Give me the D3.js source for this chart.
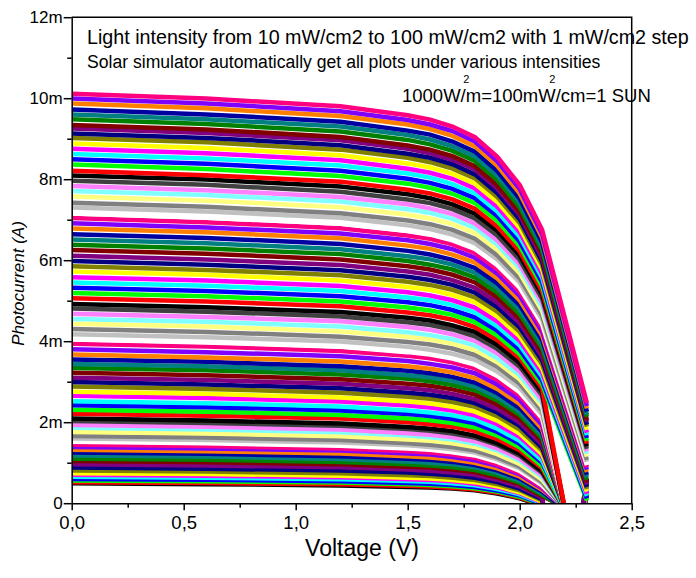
<!DOCTYPE html>
<html><head><meta charset="utf-8">
<script src="https://cdn.jsdelivr.net/npm/d3@7"></script>
<style>
body{margin:0;background:#fff}
svg{display:block}
text{font-family:"Liberation Sans",Arial,sans-serif;fill:#000}
</style>
</head><body>
<svg id="chart" width="696" height="578"></svg>
<script>
// Sweep voltages (V)
const voltage = [0, 0.6, 1.2, 1.5, 1.6, 1.7, 1.8, 1.9, 2.0, 2.1, 2.2, 2.3];
// Light intensity of each curve (mW/cm2), lowest first (plot order)
const intensity = [12,13,14,15,16,17,18,19,20,21,22,23,24,25,26,27,28,29,30,31,32,33,34,35,36,37,38,39,40,41,42,43,44,45,46,47,48,49,50,51,52,53,54,55,56,57,58,59,60,61,62,63,64,65,66,67,68,69,70,71,72,73,74,75,76,77,78,79,80,81,82,83,84,85,86,87,88,89,90,91,92,93,94,95,96,97,98,99,100];
// Photocurrent (mA) of each curve at the voltages above
const photocurrent = [
[0.49,0.47,0.44,0.40,0.39,0.36,0.32,0.24,0.12,-0.06,-3,0.22],
[0.52,0.50,0.47,0.43,0.41,0.38,0.34,0.26,0.14,-0.05,-3,0.27],
[0.56,0.54,0.51,0.47,0.45,0.42,0.37,0.29,0.16,-0.03,-3,0.31],
[0.60,0.58,0.54,0.50,0.48,0.45,0.40,0.31,0.19,-0.02,-3,0.36],
[0.65,0.63,0.59,0.55,0.53,0.49,0.44,0.35,0.22,0.00,-3,0.40],
[0.70,0.68,0.64,0.59,0.57,0.54,0.48,0.39,0.25,0.02,-3,0.44],
[0.74,0.72,0.68,0.63,0.61,0.57,0.52,0.42,0.27,0.04,-3,0.49],
[0.81,0.78,0.74,0.69,0.67,0.63,0.57,0.47,0.32,0.07,-3,0.53],
[0.88,0.85,0.81,0.76,0.73,0.69,0.63,0.52,0.36,0.10,-3,0.57],
[0.96,0.93,0.89,0.83,0.80,0.76,0.70,0.58,0.41,0.14,-3,0.61],
[1.04,1.01,0.96,0.90,0.88,0.83,0.77,0.64,0.47,0.18,-0.10,-6],
[1.10,1.07,1.02,0.96,0.93,0.89,0.82,0.69,0.51,0.21,-0.12,-6],
[1.18,1.15,1.09,1.03,1.00,0.96,0.89,0.75,0.56,0.25,-0.09,-6],
[1.25,1.22,1.16,1.10,1.07,1.02,0.94,0.81,0.61,0.29,-0.14,-6],
[1.32,1.28,1.23,1.16,1.13,1.08,1.00,0.86,0.66,0.33,-0.10,-6],
[1.39,1.35,1.30,1.23,1.20,1.14,1.06,0.92,0.71,0.37,-0.12,-6],
[1.45,1.41,1.35,1.29,1.25,1.20,1.12,0.96,0.75,0.40,-0.08,-6],
[1.52,1.48,1.42,1.35,1.32,1.26,1.18,1.02,0.80,0.44,-0.12,-6],
[1.60,1.56,1.50,1.43,1.39,1.33,1.25,1.08,0.86,0.49,-0.10,-6],
[1.66,1.62,1.56,1.48,1.44,1.39,1.30,1.13,0.90,0.52,-0.15,-6],
[1.76,1.72,1.65,1.57,1.54,1.48,1.39,1.21,0.97,0.58,-0.09,-6],
[1.86,1.82,1.75,1.67,1.63,1.57,1.47,1.30,1.05,0.64,-0.12,-6],
[1.93,1.89,1.82,1.73,1.69,1.63,1.53,1.35,1.10,0.69,-0.10,-6],
[2.03,1.98,1.91,1.83,1.79,1.72,1.62,1.44,1.17,0.75,-0.14,-6],
[2.09,2.04,1.97,1.88,1.84,1.78,1.67,1.48,1.22,0.79,-0.09,-6],
[2.21,2.16,2.09,2.00,1.95,1.89,1.78,1.58,1.31,0.86,-0.12,-6],
[2.31,2.26,2.18,2.09,2.05,1.98,1.87,1.67,1.38,0.92,-0.12,-6],
[2.42,2.37,2.29,2.20,2.15,2.08,1.97,1.76,1.47,1.00,-0.10,-6],
[2.52,2.47,2.39,2.29,2.24,2.17,2.06,1.84,1.54,1.06,-0.15,-6],
[2.65,2.60,2.51,2.41,2.36,2.29,2.17,1.95,1.64,1.15,-0.08,-6],
[2.75,2.70,2.61,2.51,2.46,2.38,2.26,2.04,1.72,1.21,-0.12,-6],
[2.88,2.82,2.73,2.63,2.58,2.50,2.38,2.15,1.82,1.30,-0.10,-6],
[2.99,2.93,2.84,2.73,2.68,2.60,2.47,2.24,1.91,1.37,-0.14,-6],
[3.10,3.04,2.95,2.84,2.79,2.70,2.57,2.33,1.99,1.45,-0.09,-6],
[3.22,3.16,3.06,2.95,2.90,2.81,2.68,2.44,2.09,1.53,-0.12,-6],
[3.34,3.28,3.18,3.07,3.01,2.92,2.79,2.54,2.18,1.61,-0.10,-6],
[3.44,3.38,3.28,3.16,3.11,3.02,2.88,2.62,2.26,1.68,-0.15,-6],
[3.55,3.49,3.38,3.27,3.21,3.12,2.98,2.72,2.35,1.76,-0.08,-6],
[3.67,3.60,3.50,3.38,3.32,3.23,3.09,2.82,2.45,1.84,-0.12,-6],
[3.80,3.73,3.63,3.51,3.44,3.35,3.21,2.93,2.55,1.93,-0.10,-6],
[3.94,3.87,3.76,3.64,3.58,3.48,3.33,3.05,2.66,2.03,-0.14,-6],
[4.04,3.97,3.86,3.73,3.67,3.57,3.42,3.14,2.74,2.10,-0.09,-6],
[4.17,4.10,3.99,3.86,3.79,3.69,3.54,3.25,2.85,2.19,-0.12,-6],
[4.30,4.23,4.11,3.98,3.92,3.82,3.66,3.37,2.95,2.29,-0.10,-6],
[4.43,4.36,4.24,4.11,4.04,3.94,3.78,3.48,3.06,2.38,-0.15,-6],
[4.55,4.48,4.36,4.22,4.15,4.05,3.89,3.58,3.16,2.47,-0.08,-6],
[4.68,4.60,4.49,4.35,4.28,4.17,4.01,3.70,3.26,2.56,-0.12,-6],
[4.81,4.73,4.61,4.47,4.40,4.29,4.12,3.81,3.37,2.66,-0.10,-6],
[4.92,4.84,4.72,4.58,4.51,4.39,4.23,3.91,3.46,2.74,-0.14,-6],
[5.06,4.98,4.86,4.71,4.64,4.53,4.35,4.03,3.58,2.84,-0.09,-6],
[5.19,5.11,4.98,4.83,4.76,4.65,4.47,4.14,3.68,2.94,1.50,0.07],
[5.32,5.24,5.11,4.96,4.89,4.77,4.59,4.26,3.79,3.03,1.58,0.12],
[5.45,5.37,5.24,5.08,5.01,4.89,4.71,4.37,3.90,3.13,1.65,0.18],
[5.58,5.50,5.36,5.21,5.13,5.01,4.83,4.49,4.01,3.23,1.73,0.23],
[5.72,5.64,5.50,5.34,5.27,5.14,4.96,4.61,4.12,3.33,1.81,0.29],
[5.85,5.76,5.63,5.47,5.39,5.27,5.08,4.73,4.23,3.43,1.89,0.35],
[5.98,5.89,5.75,5.59,5.51,5.39,5.20,4.84,4.34,3.53,1.97,0.40],
[6.11,6.02,5.88,5.72,5.64,5.51,5.32,4.96,4.45,3.63,2.04,0.46],
[6.25,6.16,6.02,5.85,5.77,5.64,5.45,5.08,4.56,3.73,2.13,0.52],
[6.38,6.29,6.15,5.98,5.89,5.77,5.57,5.20,4.67,3.83,2.21,0.58],
[6.51,6.42,6.27,6.10,6.02,5.89,5.69,5.31,4.78,3.93,2.29,0.64],
[6.64,6.55,6.40,6.23,6.14,6.01,5.81,5.43,4.89,4.03,2.37,0.70],
[6.78,6.69,6.54,6.36,6.28,6.14,5.94,5.55,5.01,4.14,2.45,0.77],
[6.91,6.81,6.66,6.49,6.40,6.27,6.06,5.67,5.12,4.24,2.53,0.83],
[7.04,6.94,6.79,6.61,6.53,6.39,6.18,5.78,5.23,4.34,2.61,0.89],
[7.15,7.05,6.90,6.72,6.63,6.49,6.28,5.88,5.32,4.42,2.68,0.94],
[7.30,7.20,7.05,6.86,6.77,6.63,6.42,6.02,5.45,4.54,2.78,1.02],
[7.42,7.32,7.16,6.98,6.89,6.75,6.53,6.12,5.55,4.63,2.85,1.07],
[7.57,7.47,7.31,7.12,7.03,6.89,6.67,6.26,5.68,4.75,2.95,1.15],
[7.71,7.61,7.45,7.26,7.17,7.02,6.80,6.38,5.80,4.85,3.04,1.22],
[7.83,7.73,7.56,7.38,7.28,7.14,6.91,6.49,5.90,4.95,3.11,1.28],
[7.96,7.86,7.69,7.50,7.41,7.26,7.03,6.61,6.01,5.05,3.20,1.34],
[8.09,7.99,7.82,7.63,7.53,7.38,7.15,6.73,6.12,5.15,3.28,1.41],
[8.21,8.10,7.94,7.74,7.65,7.50,7.27,6.83,6.22,5.24,3.36,1.47],
[8.36,8.25,8.08,7.89,7.79,7.64,7.41,6.97,6.35,5.36,3.45,1.54],
[8.49,8.38,8.21,8.01,7.91,7.76,7.53,7.09,6.46,5.46,3.54,1.61],
[8.62,8.51,8.34,8.14,8.04,7.88,7.65,7.20,6.58,5.57,3.62,1.68],
[8.75,8.64,8.47,8.26,8.16,8.01,7.77,7.32,6.69,5.67,3.71,1.74],
[8.88,8.77,8.59,8.39,8.29,8.13,7.89,7.44,6.80,5.77,3.79,1.81],
[9.02,8.91,8.73,8.53,8.42,8.26,8.02,7.56,6.92,5.88,3.88,1.89],
[9.13,9.02,8.84,8.63,8.53,8.37,8.12,7.66,7.01,5.97,3.96,1.94],
[9.25,9.14,8.96,8.75,8.64,8.48,8.24,7.77,7.12,6.06,4.04,2.01],
[9.34,9.23,9.04,8.83,8.73,8.57,8.32,7.85,7.19,6.14,4.10,2.05],
[9.48,9.36,9.18,8.97,8.86,8.70,8.45,7.98,7.31,6.25,4.19,2.13],
[9.60,9.48,9.30,9.09,8.98,8.81,8.56,8.09,7.42,6.34,4.27,2.19],
[9.72,9.60,9.42,9.20,9.10,8.93,8.68,8.20,7.52,6.44,4.35,2.26],
[9.87,9.75,9.56,9.35,9.24,9.07,8.81,8.33,7.65,6.56,4.45,2.34],
[9.99,9.87,9.68,9.46,9.35,9.19,8.93,8.44,7.76,6.65,4.53,2.40],
[10.11,9.99,9.80,9.58,9.47,9.30,9.04,8.55,7.86,6.75,4.61,2.47]
];
const xTicks = [0, 0.5, 1.0, 1.5, 2.0, 2.5];
const xTickLabels = ["0,0", "0,5", "1,0", "1,5", "2,0", "2,5"];
const xMinorTicks = [0.25, 0.75, 1.25, 1.75, 2.25];
const yTicks = [0, 2, 4, 6, 8, 10, 12];
const yTickLabels = ["0", "2m", "4m", "6m", "8m", "10m", "12m"];
const yMinorTicks = [1, 3, 5, 7, 9, 11];
const noteLines = [
  "Light intensity from 10 mW/cm2 to 100 mW/cm2 with 1 mW/cm2 step",
  "Solar simulator automatically get all plots under various intensities"
];
const sunNote = "1000W/m=100mW/cm=1 SUN";

// Origin default colour cycle
const palette = ["#000000","#FF0000","#00FF00","#0000FF","#00FFFF","#FF00FF","#FFFF00","#808000",
  "#000080","#800080","#800000","#008000","#008080","#0000A0","#FF8000","#8000FF",
  "#FF0080","#FFFFFF","#C0C0C0","#808080","#FFFF80","#80FFFF","#FF80FF","#404040"];

const svg = d3.select("#chart");
const P = {left: 71.7, right: 631.7, top: 17.2, bottom: 503.2};
const x = d3.scaleLinear().domain([0, 2.5]).range([P.left, P.right]);
const y = d3.scaleLinear().domain([0, 12]).range([P.bottom, P.top]);

svg.append("rect").attr("width", 696).attr("height", 578).attr("fill", "#fff");

svg.append("defs").append("clipPath").attr("id", "clip").append("rect")
  .attr("x", P.left).attr("y", P.top).attr("width", P.right - P.left).attr("height", P.bottom - P.top);

const line = d3.line().x((d, i) => x(voltage[i])).y(d => y(d));
svg.append("g").attr("clip-path", "url(#clip)")
  .selectAll("path").data(photocurrent).join("path")
  .attr("d", line)
  .attr("fill", "none")
  .attr("stroke", (d, i) => palette[i % palette.length])
  .attr("stroke-width", 4.5)
  .attr("stroke-linejoin", "miter")
  .attr("stroke-miterlimit", 3);

// frame (top and right)
svg.append("path")
  .attr("d", `M${P.left},${P.top}H${P.right}V${P.bottom}`)
  .attr("fill", "none").attr("stroke", "#000").attr("stroke-width", 1.5);

function styleAxis(g) {
  g.selectAll("path,line").attr("stroke", "#000").attr("stroke-width", 1.5);
  g.attr("font-family", null).attr("font-size", null);
}

// x axis
const gx = svg.append("g").attr("transform", `translate(0,${P.bottom})`)
  .call(d3.axisBottom(x).tickValues(xTicks).tickFormat((d, i) => xTickLabels[i])
    .tickSize(7).tickSizeOuter(0).tickPadding(6));
svg.append("g").attr("transform", `translate(0,${P.bottom})`)
  .call(d3.axisBottom(x).tickValues(xMinorTicks).tickFormat("").tickSize(4.5).tickSizeOuter(0))
  .call(g => g.select(".domain").remove())
  .call(styleAxis);
styleAxis(gx);
gx.selectAll("text").style("font-size", "18.5px");

// y axis
const gy = svg.append("g").attr("transform", `translate(${P.left},0)`)
  .call(d3.axisLeft(y).tickValues(yTicks).tickFormat((d, i) => yTickLabels[i])
    .tickSize(8).tickSizeOuter(0).tickPadding(1));
svg.append("g").attr("transform", `translate(${P.left},0)`)
  .call(d3.axisLeft(y).tickValues(yMinorTicks).tickFormat("").tickSize(4.5).tickSizeOuter(0))
  .call(g => g.select(".domain").remove())
  .call(styleAxis);
styleAxis(gy);
gy.selectAll("text").style("font-size", "17px");

// axis titles
svg.append("text").attr("x", 362).attr("y", 556).attr("text-anchor", "middle")
  .style("font-size", "23px").text("Voltage (V)");
svg.append("text").attr("transform", "translate(23.5,283.5) rotate(-90)")
  .attr("text-anchor", "middle").style("font-size", "17px").style("font-style", "italic")
  .text("Photocurrent (A)");

// notes
svg.append("text").attr("x", 87).attr("y", 44.3).style("font-size", "19.7px").text(noteLines[0]);
svg.append("text").attr("x", 87).attr("y", 68.3).style("font-size", "17.6px").text(noteLines[1]);
svg.append("text").attr("x", 402).attr("y", 102.3).style("font-size", "18.5px").text(sunNote);
svg.append("text").attr("x", 463.3).attr("y", 83).style("font-size", "11px").text("2");
svg.append("text").attr("x", 549.3).attr("y", 83).style("font-size", "11px").text("2");
</script>
</body></html>
